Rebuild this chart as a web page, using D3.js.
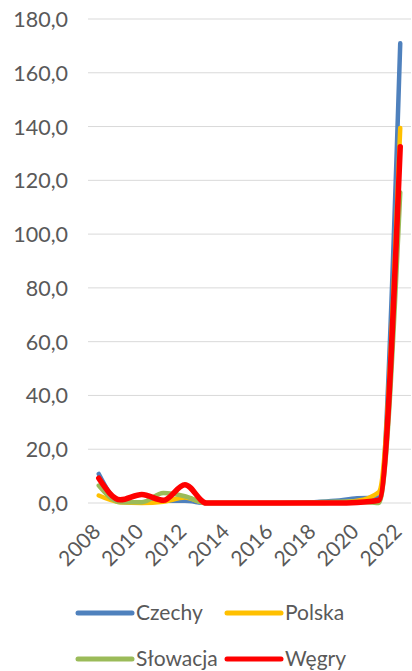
<!DOCTYPE html>
<html>
<head>
<meta charset="utf-8">
<script src="https://cdn.jsdelivr.net/npm/d3@7"></script>
<style>
  html, body { margin: 0; padding: 0; background: #fff; }
  svg { display: block; }
  text { font-family: Lato, "Open Sans", sans-serif; fill: #595959; }
</style>
</head>
<body>
<div id="chart"></div>
<script>
// Yearly values per country
const years = [2008, 2009, 2010, 2011, 2012, 2013, 2014, 2015, 2016, 2017, 2018, 2019, 2020, 2021, 2022];
const czechy   = [10.8, 0.5, 0.3, 0.8, 0.8, 0, 0, 0, 0, 0.1, 0.3, 0.8, 1.8, 2.0, 171.0];
const polska   = [2.8, 0.3, 0.0, 0.5, 2.0, 0, 0, 0, 0, 0, 0, 0.2, 0.8, 4.0, 139.5];
const slowacja = [6.5, 0.3, 0.3, 3.7, 2.5, 0, 0, 0, 0, 0, 0.2, 0.5, 0.5, 0.0, 115.5];
const wegry    = [9.2, 1.2, 3.2, 1.0, 6.8, 0, 0, 0, 0, 0, 0, 0, 0.2, 1.0, 132.5];
const yTicks = [0, 20, 40, 60, 80, 100, 120, 140, 160, 180];
const xTickYears = [2008, 2010, 2012, 2014, 2016, 2018, 2020, 2022];

const series = [
  { name: "Czechy",   values: czechy,   color: "#4F81BD" },
  { name: "Polska",   values: polska,   color: "#FFC000" },
  { name: "Słowacja", values: slowacja, color: "#9BBB59" },
  { name: "Węgry",    values: wegry,    color: "#FF0000" }
];

const W = 412, H = 671;
const FONT = "Lato, 'Open Sans', sans-serif";
const svg = d3.select("#chart").append("svg").attr("width", W).attr("height", H);

const x = d3.scaleBand().domain(years).range([88, 411]);
const y = d3.scaleLinear().domain([0, 180]).range([503, 19]);
const fmt = v => d3.format(".1f")(v).replace(".", ",");

// Horizontal gridlines
svg.append("g").selectAll("line").data(yTicks).join("line")
  .attr("x1", 88).attr("x2", 411)
  .attr("y1", d => y(d)).attr("y2", d => y(d))
  .attr("stroke", "#D9D9D9").attr("stroke-width", 1);

// Y axis labels
const yAxis = d3.axisLeft(y).tickValues(yTicks).tickFormat(fmt).tickSize(0).tickPadding(0);
svg.append("g").attr("transform", "translate(68,0)").call(yAxis)
  .call(g => g.select(".domain").remove())
  .call(g => g.selectAll("text").attr("font-size", 21.5).attr("fill", "#595959")
    .attr("font-family", FONT).attr("dy", "0.35em"));

// X axis labels, rotated
const xAxis = d3.axisBottom(x).tickValues(xTickYears).tickSize(0).tickPadding(0);
svg.append("g").attr("transform", "translate(0,503)").call(xAxis)
  .call(g => g.select(".domain").remove())
  .call(g => g.selectAll("text")
    .attr("font-size", 21).attr("fill", "#595959")
    .attr("font-family", FONT)
    .attr("text-anchor", "end")
    .attr("dy", null).attr("y", null)
    .attr("transform", "translate(3,30) rotate(-45)"));

// Smoothed series lines
const line = d3.line()
  .x((d, i) => x(years[i]) + x.bandwidth() / 2)
  .y(d => y(d))
  .curve(d3.curveMonotoneX);

svg.append("g").selectAll("path").data(series).join("path")
  .attr("d", s => line(s.values))
  .attr("fill", "none")
  .attr("stroke", s => s.color)
  .attr("stroke-width", s => s.name === "Węgry" ? 5.5 : 4.5)
  .attr("stroke-linecap", "round")
  .attr("stroke-linejoin", "round");

// Legend (two rows)
const legendPos = [[78, 613], [227, 613], [78, 659], [227, 659]];
const lg = svg.append("g").selectAll("g").data(series).join("g")
  .attr("transform", (s, i) => `translate(${legendPos[i][0]},${legendPos[i][1]})`);
lg.append("line").attr("x1", 0).attr("x2", 54).attr("y1", 0).attr("y2", 0)
  .attr("stroke", s => s.color).attr("stroke-width", 5).attr("stroke-linecap", "round");
lg.append("text").attr("x", 58).attr("y", 0).attr("dy", "0.35em")
  .attr("font-size", 21).attr("font-family", FONT).text(s => s.name);
</script>
</body>
</html>
